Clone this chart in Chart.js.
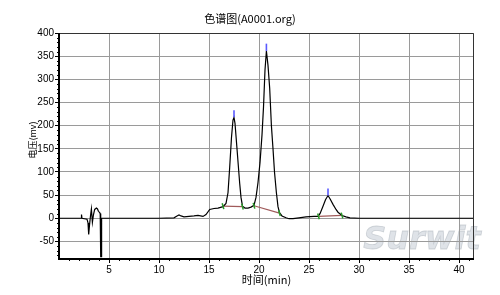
<!DOCTYPE html>
<html><head><meta charset="utf-8">
<script src="https://cdn.jsdelivr.net/npm/chart.js@4"></script>
<style>html,body{margin:0;padding:0;background:#fff;}#wrap{width:500px;height:295px;}</style>
</head><body><div id="wrap"><canvas id="c" width="500" height="295"></canvas></div>
<script>
const titleText = "色谱图(A0001.org)";
const xTitle = "时间(min)";
const yTitle = "电压(mv)";
const xTicks = [5,10,15,20,25,30,35,40];
const yTicks = [-50,0,50,100,150,200,250,300,350,400];
const time = [0,2.2,2.25,2.3,2.8,2.9,2.97,3.05,3.15,3.24,3.34,3.45,3.57,3.74,3.85,3.94,4.07,4.12,4.17,4.22,4.26,4.35,
  10,11.5,11.8,12.0,12.2,12.5,13.0,13.5,13.9,14.4,14.7,15.07,15.5,15.9,16.4,
  16.7,16.9,17.07,17.25,17.4,17.5,17.6,17.8,18.07,18.2,18.35,18.6,18.9,19.2,19.5,19.7,
  19.9,20.1,20.3,20.45,20.6,20.74,20.9,21.07,21.24,21.4,21.55,21.74,21.9,22.05,22.3,22.7,23.0,23.4,24.0,24.7,25.5,25.9,
  26.1,26.4,26.65,26.9,27.1,27.4,27.7,27.9,28.3,28.7,29.1,30.0,41.5];
const signal = [0,0,8,0,-2,-10,-35,-15,5,20,-9,8,19,22,20,15,12,10,-83,-83,0,0,
  0,1,5,7,5,3,4,5,6,4,8,19,21,22,25,
  32,55,110,175,212,218,205,150,75,45,26,22,22,24,28,45,
  77,120,180,240,320,361,330,280,200,150,100,55,25,12,5,1,-1,-1,1,3,4,4,
  10,26,40,49,42,30,19,13,6,3,1,0,0];
const baseStartT = [16.4,19.5,25.95];
const baseStartV = [26,27,4];
const baseEndT = [18.35,22.05,28.3];
const baseEndV = [25,11,6];
const apexT = [17.5,20.74,26.9];
const apexV = [218,361,49];
const apexTopV = [233,377,64];

const mainData = time.map((t,i)=>({x:t,y:signal[i]}));
const datasets = [{data:mainData,borderColor:'#000',borderWidth:1.2,pointRadius:0,tension:0,order:1}];
baseStartT.forEach((t,i)=>{
  datasets.push({data:[{x:t,y:baseStartV[i]},{x:baseEndT[i],y:baseEndV[i]}],borderColor:'#a05a5a',borderWidth:1.2,pointRadius:0,order:2});
  datasets.push({data:[{x:t,y:baseStartV[i]},{x:baseEndT[i],y:baseEndV[i]}],showLine:false,pointStyle:'line',rotation:75,pointRadius:3,pointBorderColor:'#2a9a2a',pointBorderWidth:1.5,order:0});
});
apexT.forEach((t,i)=>{
  datasets.push({data:[{x:t,y:apexV[i]},{x:t,y:apexTopV[i]}],borderColor:'#5a5aff',borderWidth:1.6,pointRadius:0,order:0});
});

const deco = {
  id:'deco',
  beforeDraw(chart){
    const ctx=chart.ctx; ctx.save();
    ctx.font='italic bold 32px "DejaVu Sans"';
    ctx.fillStyle='rgba(215,220,226,0.8)';
    ctx.strokeStyle='rgba(170,178,186,0.5)';
    ctx.lineWidth=0.8;
    ctx.textAlign='center'; ctx.textBaseline='middle';
    ctx.fillText('Surwit',422,241); ctx.strokeText('Surwit',422,241);
    ctx.restore();
  },
  afterDraw(chart){
    const ctx=chart.ctx, a=chart.chartArea, xs=chart.scales.x, ys=chart.scales.y;
    ctx.save();
    ctx.strokeStyle='#000'; ctx.lineWidth=1;
    for(let v=1; v<=41; v++){ if(v%5===0) continue; const px=Math.round(xs.getPixelForValue(v))+0.5; ctx.beginPath(); ctx.moveTo(px,a.bottom); ctx.lineTo(px,a.bottom+2); ctx.stroke(); }
    for(let v=-80; v<400; v+=10){ if(v%50===0) continue; const py=Math.round(ys.getPixelForValue(v))+0.5; ctx.beginPath(); ctx.moveTo(a.left-2,py); ctx.lineTo(a.left,py); ctx.stroke(); }
    ctx.strokeStyle='#333'; ctx.lineWidth=1;
    ctx.beginPath(); ctx.moveTo(a.left,a.top+0.5); ctx.lineTo(a.right-0.5,a.top+0.5); ctx.lineTo(a.right-0.5,a.bottom); ctx.stroke();
    ctx.strokeStyle='#000'; ctx.lineWidth=2;
    ctx.beginPath(); ctx.moveTo(a.left,a.top); ctx.lineTo(a.left,a.bottom); ctx.lineTo(a.right,a.bottom); ctx.stroke();
    ctx.fillStyle='#000'; ctx.textAlign='center'; ctx.textBaseline='middle';
    ctx.font='11px "Noto Sans CJK SC"';
    ctx.fillText(titleText,250,19);
    ctx.fillText(xTitle,(a.left+a.right)/2,280);
    ctx.font='9px "Noto Sans CJK SC"';
    ctx.translate(33,140); ctx.rotate(-Math.PI/2); ctx.fillText(yTitle,0,0);
    ctx.restore();
  }
};

new Chart(document.getElementById('c'),{
  type:'line',
  data:{datasets},
  options:{
    responsive:false, devicePixelRatio:1, animation:false, parsing:false,
    layout:{padding:{left:0,right:26,top:33,bottom:0}},
    plugins:{legend:{display:false},tooltip:{enabled:false},title:{display:false}},
    scales:{
      x:{type:'linear',min:0,max:41.5,
        afterFit(s){s.height=36;},
        afterBuildTicks(s){s.ticks=xTicks.map(v=>({value:v}));},
        grid:{color:'#9a9a9a',borderDash:[3,3],tickColor:'#000',tickLength:4,tickBorderDash:[],tickWidth:1,lineWidth:1},
        border:{display:false},
        ticks:{color:'#000',font:{family:'"Liberation Sans", Arial',size:10},padding:1,maxRotation:0,autoSkip:false}
      },
      y:{type:'linear',min:-88,max:400,
        afterFit(s){s.width=59;},
        afterBuildTicks(s){s.ticks=yTicks.map(v=>({value:v}));},
        grid:{color:'#9a9a9a',borderDash:[3,3],tickColor:'#000',tickLength:4,tickBorderDash:[],tickWidth:1,lineWidth:1},
        border:{display:false},
        ticks:{color:'#000',font:{family:'"Liberation Sans", Arial',size:10},padding:1,autoSkip:false}
      }
    }
  },
  plugins:[deco]
});
</script></body></html>
